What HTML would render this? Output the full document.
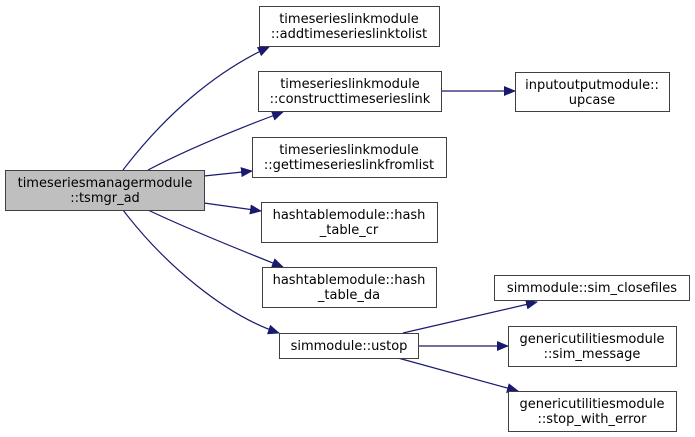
<!DOCTYPE html>
<html><head><meta charset="utf-8"><style>
html,body{margin:0;padding:0;background:#fff;}
svg{display:block;}
text{font-family:"DejaVu Sans","Liberation Sans",sans-serif;font-size:13px;fill:#000;}
</style></head><body>
<svg width="695" height="437" viewBox="0 0 695 437" xmlns="http://www.w3.org/2000/svg">
<defs>
<marker id="a" markerWidth="12" markerHeight="10" refX="11" refY="5" orient="auto" markerUnits="userSpaceOnUse">
<path d="M0,0 L12,5 L0,10 Z" fill="#191970"/>
</marker>
</defs>
<g fill="none" stroke="#191970" stroke-width="1.2" marker-end="url(#a)">
<path d="M123,170 C165,115 215,72 269,47"/>
<path d="M148,170 C190,148 240,128 283,112"/>
<path d="M204,176 L252,171"/>
<path d="M204,203 L261,211"/>
<path d="M148,210 C190,230 240,250 283,267"/>
<path d="M123,210 C165,265 225,315 279,333"/>
<path d="M441,91 L515,91"/>
<path d="M403,333 L537,302"/>
<path d="M419,346 L508,346"/>
<path d="M398,358 L518,391"/>
</g>
<g stroke="#404040" stroke-width="1">
<rect x="5.5" y="170.5" width="199" height="40" fill="#bfbfbf"/>
<rect x="259.5" y="6.5" width="180" height="40" fill="#fff"/>
<rect x="258.5" y="71.5" width="183" height="40" fill="#fff"/>
<rect x="252.5" y="137.5" width="194" height="40" fill="#fff"/>
<rect x="261.5" y="202.5" width="176" height="40" fill="#fff"/>
<rect x="262.5" y="267.5" width="174" height="40" fill="#fff"/>
<rect x="279.5" y="333.5" width="139" height="25" fill="#fff"/>
<rect x="515.5" y="72.5" width="154" height="39" fill="#fff"/>
<rect x="494.5" y="275.5" width="195" height="25" fill="#fff"/>
<rect x="508.5" y="326.5" width="168" height="40" fill="#fff"/>
<rect x="508.5" y="391.5" width="168" height="40" fill="#fff"/>
</g>
<g text-anchor="middle">
<text x="105" y="187">timeseriesmanagermodule</text>
<text x="105" y="202">::tsmgr_ad</text>
<text x="349" y="23">timeserieslinkmodule</text>
<text x="349" y="38">::addtimeserieslinktolist</text>
<text x="350" y="88">timeserieslinkmodule</text>
<text x="350" y="103">::constructtimeserieslink</text>
<text x="349" y="154">timeserieslinkmodule</text>
<text x="349" y="169">::gettimeserieslinkfromlist</text>
<text x="349" y="219">hashtablemodule::hash</text>
<text x="349" y="234">_table_cr</text>
<text x="349" y="284">hashtablemodule::hash</text>
<text x="349" y="299">_table_da</text>
<text x="349" y="350">simmodule::ustop</text>
<text x="592" y="89">inputoutputmodule::</text>
<text x="592" y="104">upcase</text>
<text x="592" y="292">simmodule::sim_closefiles</text>
<text x="592" y="343">genericutilitiesmodule</text>
<text x="592" y="358">::sim_message</text>
<text x="592" y="408">genericutilitiesmodule</text>
<text x="592" y="423">::stop_with_error</text>
</g>
</svg>
</body></html>
